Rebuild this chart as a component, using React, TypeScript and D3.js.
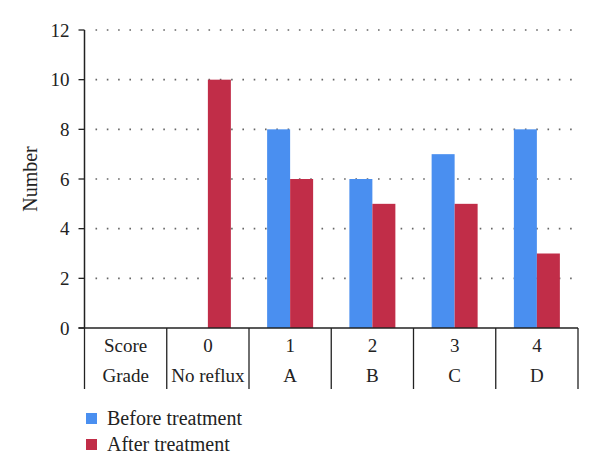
import React from "react";
import * as d3 from "d3";

// Chart data
const scores = ["0", "1", "2", "3", "4"];
const grades = ["No reflux", "A", "B", "C", "D"];
const beforeValues = [0, 8, 6, 7, 8];
const afterValues = [10, 6, 5, 5, 3];
const yTicks = [0, 2, 4, 6, 8, 10, 12];
const seriesNames = ["Before treatment", "After treatment"];

const width = 600;
const height = 476;
const MARGIN = { top: 30, left: 84.5, right: 22, bottom: 148 };
const COLORS = ["#4a8ff0", "#c12d48"];
const FONT = "'Liberation Serif', 'DejaVu Serif', serif";

export default function App() {
  const plotBottom = height - MARGIN.bottom;

  // one extra band on the left holds the "Score / Grade" row labels
  const xScale = d3
    .scaleBand<string>()
    .domain(["label", ...scores])
    .range([MARGIN.left, width - MARGIN.right]);

  const yScale = d3.scaleLinear().domain([0, 12]).range([plotBottom, MARGIN.top]);

  const barWidth = 23;
  const tableBottom = plotBottom + 61;
  const bandEdges = ["label", ...scores].map((d) => xScale(d) as number);
  bandEdges.push(width - MARGIN.right);

  return (
    <svg
      width={width}
      height={height}
      style={{ position: "absolute", left: 0, top: 0, background: "#fff" }}
      fontFamily={FONT}
    >
      {/* dotted gridlines */}
      {yTicks
        .filter((t) => t > 0)
        .map((t) => (
          <line
            key={"g" + t}
            x1={MARGIN.left + 11}
            x2={width - MARGIN.right - 4}
            y1={yScale(t)}
            y2={yScale(t)}
            stroke="#666"
            strokeWidth={1.6}
            strokeDasharray="1.6,9.7"
          />
        ))}

      {/* bars */}
      {scores.map((s, i) => {
        const center = (xScale(s) as number) + xScale.bandwidth() / 2;
        return (
          <g key={"b" + s}>
            {beforeValues[i] > 0 && (
              <rect
                x={center - barWidth}
                y={yScale(beforeValues[i])}
                width={barWidth}
                height={plotBottom - yScale(beforeValues[i])}
                fill={COLORS[0]}
              />
            )}
            {afterValues[i] > 0 && (
              <rect
                x={center}
                y={yScale(afterValues[i])}
                width={barWidth}
                height={plotBottom - yScale(afterValues[i])}
                fill={COLORS[1]}
              />
            )}
          </g>
        );
      })}

      {/* y axis */}
      <line x1={MARGIN.left} x2={MARGIN.left} y1={MARGIN.top} y2={plotBottom} stroke="#222" strokeWidth={1.5} />
      {yTicks.map((t) => (
        <g key={"t" + t}>
          <line x1={MARGIN.left - 6} x2={MARGIN.left} y1={yScale(t)} y2={yScale(t)} stroke="#222" strokeWidth={1.3} />
          <text x={MARGIN.left - 15} y={yScale(t)} dy="0.35em" textAnchor="end" fontSize={19} fill="#222">
            {t}
          </text>
        </g>
      ))}
      <text
        transform={`translate(37,${(MARGIN.top + plotBottom) / 2}) rotate(-90)`}
        textAnchor="middle"
        fontSize={20}
        fill="#222"
      >
        Number
      </text>

      {/* table under the x axis */}
      <line x1={MARGIN.left - 6} x2={width - MARGIN.right} y1={plotBottom} y2={plotBottom} stroke="#222" strokeWidth={1.5} />
      {bandEdges.map((x, i) => (
        <line key={"v" + i} x1={x} x2={x} y1={plotBottom} y2={tableBottom} stroke="#222" strokeWidth={1.3} />
      ))}
      {["label", ...scores].map((s, i) => {
        const cx = (xScale(s) as number) + xScale.bandwidth() / 2;
        return (
          <g key={"c" + s}>
            <text x={cx} y={plotBottom + 24} textAnchor="middle" fontSize={19} fill="#222">
              {i === 0 ? "Score" : s}
            </text>
            <text x={cx} y={plotBottom + 54} textAnchor="middle" fontSize={19} fill="#222">
              {i === 0 ? "Grade" : grades[i - 1]}
            </text>
          </g>
        );
      })}

      {/* legend */}
      {seriesNames.map((name, i) => (
        <g key={"l" + i} transform={`translate(86,${413 + i * 26})`}>
          <rect width={11} height={11} fill={COLORS[i]} />
          <text x={21} y={12} fontSize={20} fill="#222">
            {name}
          </text>
        </g>
      ))}
    </svg>
  );
}
